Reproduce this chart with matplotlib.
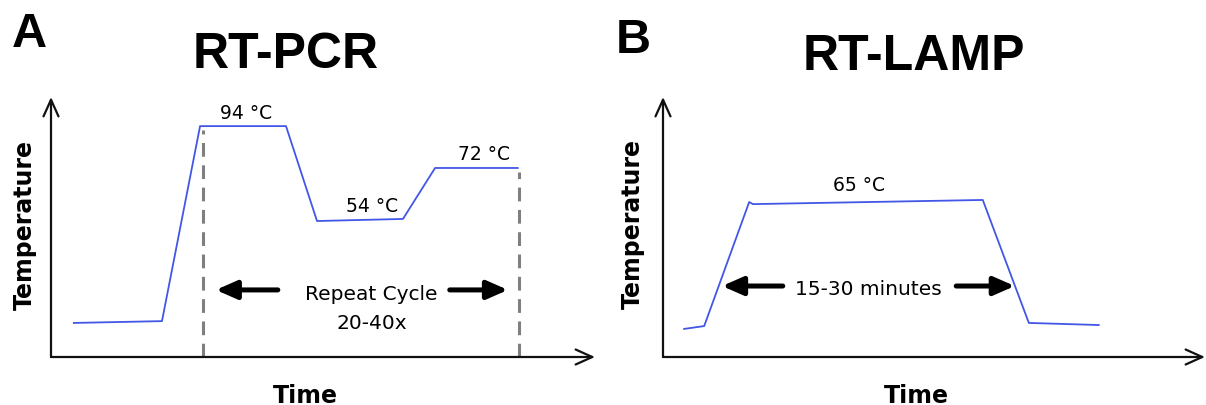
import matplotlib.pyplot as plt

# temperature profiles (arbitrary time / temperature units)
pcr_time = [4.2, 20.4, 27.4, 43.2, 48.9, 64.7, 70.6, 85.8]
pcr_temp = [13.1, 13.8, 88.8, 88.8, 52.3, 53.1, 72.7, 72.7]
pcr_steps = ['94 °C', '54 °C', '72 °C']
pcr_cycle = [27.9, 86.0]

lamp_time = [3.9, 7.6, 15.9, 16.6, 59.0, 67.5, 80.4]
lamp_temp = [10.8, 11.9, 59.6, 58.8, 60.4, 13.1, 12.3]
lamp_steps = ['65 °C']

W, H = 1206, 406
blue = '#4257e6'
fig = plt.figure(figsize=(W / 100, H / 100), dpi=100)


def px_axes(x0, x1, y0, y1):
    # y0 = bottom pixel row, y1 = top pixel row
    return fig.add_axes([x0 / W, 1 - y0 / H, (x1 - x0) / W, (y0 - y1) / H])


def draw_axes_arrows(ax):
    ax.set_xlim(0, 100)
    ax.set_ylim(0, 100)
    ax.axis('off')
    st = '->,head_length=0.6,head_width=0.27'
    for end in [(1, 0), (0, 1)]:
        ax.annotate('', xy=end, xytext=(0, 0), xycoords='axes fraction',
                    arrowprops=dict(arrowstyle=st, lw=1.6, color='#111111',
                                    mutation_scale=20, shrinkA=0, shrinkB=0))


def fat_arrow(ax, tail, tip, y):
    ax.annotate('', xy=(tip, y), xytext=(tail, y),
                arrowprops=dict(arrowstyle='-|>,head_length=0.5,head_width=0.22',
                                lw=3.6, color='black', mutation_scale=25,
                                shrinkA=0, shrinkB=0))


def ftext(x, y, s, **kw):
    fig.text(x / W, 1 - y / H, s, **kw)


title_kw = dict(family=['Liberation Sans', 'DejaVu Sans'], weight='bold', ha='center', va='baseline')
lab_kw = dict(family='DejaVu Sans', weight='bold', size=17)
small = dict(family='DejaVu Sans', size=13.5, ha='center', va='baseline')

# ---- panel A: RT-PCR
axA = px_axes(51, 595, 358, 98)
draw_axes_arrows(axA)
axA.plot(pcr_time, pcr_temp, color=blue, lw=1.3)
for xc, yi in zip(pcr_cycle, [3, 7]):
    axA.vlines(xc, 0, pcr_temp[yi] - 1.5, colors='#7f7f7f', lw=2.2, linestyles=(0, (4.5, 2.8)))
axA.text(35.8, 91.9, pcr_steps[0], **small)
axA.text(59.0, 56.2, pcr_steps[1], **small)
axA.text(79.6, 76.2, pcr_steps[2], **small)
axA.text(58.8, 22.3, 'Repeat Cycle', **{**small, 'size': 14.5})
axA.text(59.0, 11.2, '20-40x', **{**small, 'size': 14.5})
fat_arrow(axA, 41.7, 30.3, 25.8)
fat_arrow(axA, 73.3, 84.0, 25.8)

# ---- panel B: RT-LAMP
axB = px_axes(663, 1205, 358, 98)
draw_axes_arrows(axB)
axB.plot(lamp_time, lamp_temp, color=blue, lw=1.3)
axB.text(36.2, 64.2, lamp_steps[0], **small)
axB.text(37.8, 24.2, '15-30 minutes', **{**small, 'size': 14.5})
fat_arrow(axB, 22.1, 10.9, 27.3)
fat_arrow(axB, 54.1, 64.9, 27.3)

# titles, panel letters, axis labels
ftext(29, 47, 'A', size=35, **title_kw)
ftext(633, 53, 'B', size=35, **title_kw)
ftext(286, 68, 'RT-PCR', size=36, **title_kw)
ftext(914, 70, 'RT-LAMP', size=36, **title_kw)
ftext(25, 225, 'Temperature', rotation=90, ha='center', va='center', **lab_kw)
ftext(633, 224, 'Temperature', rotation=90, ha='center', va='center', **lab_kw)
ftext(305, 403, 'Time', ha='center', va='baseline', **lab_kw)
ftext(916, 403, 'Time', ha='center', va='baseline', **lab_kw)

fig.savefig('out.png', dpi=100, facecolor='white')
